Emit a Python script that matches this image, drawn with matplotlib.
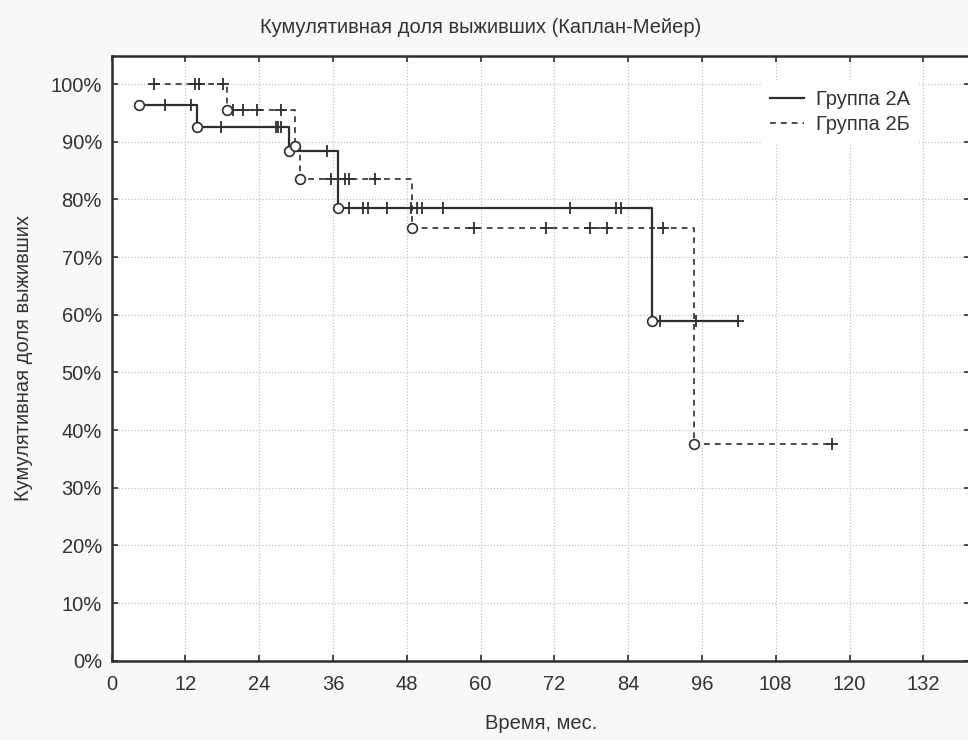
import numpy as np
import matplotlib
matplotlib.use("Agg")
import matplotlib.pyplot as plt
from matplotlib.ticker import FuncFormatter

plt.rcParams['font.family'] = ['Liberation Sans', 'DejaVu Sans']

# Kaplan-Meier data, months / survival %
a_event_t = [4.5, 13.8, 28.9, 36.8, 87.9]
a_event_s = [96.4, 92.6, 88.4, 78.5, 58.9]
a_cens_t = [8.7, 12.9, 17.8, 26.7, 27.1, 27.6, 35.0, 38.6, 40.9, 41.7, 44.7,
            48.7, 49.6, 50.4, 53.9, 74.5, 82.1, 82.9, 89.2, 95.0, 101.9]

b_event_t = [18.8, 29.8, 30.7, 48.8, 94.7]
b_event_s = [95.5, 89.2, 83.6, 75.0, 37.5]
b_cens_t = [6.8, 13.5, 14.2, 18.1, 19.7, 21.4, 23.6, 27.6, 35.6, 37.9, 38.6,
            42.8, 58.9, 70.7, 77.8, 80.6, 89.7, 117.1]

labels = ['Группа 2А', 'Группа 2Б']
xticks = np.arange(0, 133, 12)
yticks = np.arange(0, 101, 10)

dark = '#2e2e2e'
txt_col = '#333333'
fs = 14.5


def km_points(ev_t, ev_s, cens_t):
    # merge events and censored times, censored ones keep the current level
    pts = [(t, s, 1) for t, s in zip(ev_t, ev_s)] + [(t, None, 0) for t in cens_t]
    pts.sort(key=lambda p: p[0])
    level = 100.0
    t_all, s_all, flag = [], [], []
    for t, s, e in pts:
        if e:
            level = s
        t_all.append(t)
        s_all.append(level)
        flag.append(e)
    return np.array(t_all), np.array(s_all), np.array(flag)


fig = plt.figure(figsize=(9.68, 7.40), dpi=100, facecolor='#f8f8f8')
ax = fig.add_axes([0.1154, 0.1072, 0.8867, 0.8172])
ax.set_facecolor('white')

styles = [dict(ls='-', lw=1.6), dict(ls=(0, (3.5, 3)), lw=1.2)]
groups = [(a_event_t, a_event_s, a_cens_t), (b_event_t, b_event_s, b_cens_t)]

handles = []
for (ev_t, ev_s, ce_t), st, lab in zip(groups, styles, labels):
    t, s, f = km_points(ev_t, ev_s, ce_t)
    h, = ax.step(t, s, where='post', color=dark, zorder=3, label=lab, **st)
    handles.append(h)
    ax.plot(t[f == 0], s[f == 0], ls='none', marker='+', ms=9, mew=1.3,
            color=dark, zorder=4)
    ax.plot(t[f == 1], s[f == 1], ls='none', marker='o', ms=7, mew=1.2,
            mfc='white', mec=dark, zorder=5)

ax.set_xlim(0, 139.6)
ax.set_ylim(0, 104.9)
ax.set_xticks(xticks)
ax.set_yticks(yticks)
ax.yaxis.set_major_formatter(FuncFormatter(lambda v, p: f'{v:.0f}%'))
ax.tick_params(direction='in', length=4, width=1.2, color=dark,
               top=True, right=True, labelsize=fs, labelcolor=txt_col)
ax.tick_params(axis='x', pad=10.5)
ax.tick_params(axis='y', pad=7)
ax.grid(True, ls=(0, (1, 1.5)), lw=0.9, color='#c4c4c4', zorder=0)
for sp in ax.spines.values():
    sp.set_linewidth(1.8)
    sp.set_color(dark)

ax.set_xlabel('Время, мес.', fontsize=fs, color=txt_col, labelpad=14)
ax.set_ylabel('Кумулятивная доля выживших', fontsize=fs, color=txt_col,
              labelpad=13)
fig.text(0.497, 0.963, 'Кумулятивная доля выживших (Каплан-Мейер)',
         ha='center', va='center', fontsize=fs, color=txt_col)

leg = ax.legend(handles=handles, loc='upper left', bbox_to_anchor=(0.757, 0.957),
                borderaxespad=0, frameon=True, fancybox=False, framealpha=1,
                facecolor='white', edgecolor='white', fontsize=fs,
                handlelength=1.7, handletextpad=0.6,
                borderpad=0.4, labelspacing=0.32)
for txt in leg.get_texts():
    txt.set_color(txt_col)

fig.savefig('out.png', dpi=100, facecolor=fig.get_facecolor())
